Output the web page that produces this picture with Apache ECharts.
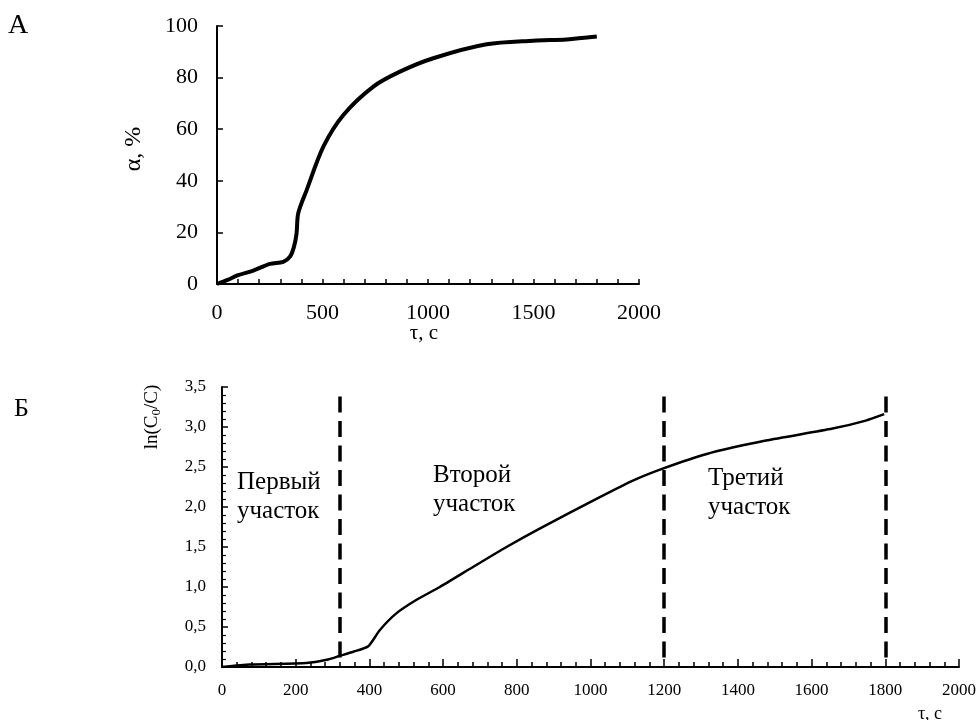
<!DOCTYPE html>
<html>
<head>
<meta charset="utf-8">
<script src="https://cdn.jsdelivr.net/npm/echarts@6/dist/echarts.min.js"></script>
<style>html,body{margin:0;padding:0;background:#fff}#c{width:979px;height:720px}</style>
</head>
<body>
<div id="c"></div>
<script>
// Panel A: conversion alpha (%) vs time (s)
const tauA = [0, 50, 100, 172, 251, 314, 346, 365, 377, 385, 425, 504, 599, 741, 867, 1025, 1278, 1499, 1657, 1800];
const alphaA = [0, 1.6, 3.4, 5.2, 7.8, 8.6, 10.6, 14.5, 19.6, 27.4, 36.4, 53.2, 65.5, 76.5, 82.3, 87.5, 92.9, 94.3, 94.8, 95.9];
// Panel B: ln(C0/C) vs time (s)
const tauB = [0, 76, 229, 284, 320, 356, 397, 428, 473, 528, 591, 681, 772, 862, 1024, 1115, 1196, 1313, 1476, 1657, 1747, 1797];
const lnB = [0, 0.03, 0.05, 0.09, 0.14, 0.19, 0.26, 0.46, 0.67, 0.84, 1.0, 1.25, 1.50, 1.73, 2.12, 2.33, 2.48, 2.66, 2.83, 2.98, 3.08, 3.16];
// Section boundaries (s)
const boundaries = [320, 1200, 1800];
const boundaryTop = 3.38;
const ticksA_x = [0, 500, 1000, 1500, 2000];
const ticksA_y = [0, 20, 40, 60, 80, 100];
const ticksB_x = [0, 200, 400, 600, 800, 1000, 1200, 1400, 1600, 1800, 2000];
const ticksB_y = ['0,0', '0,5', '1,0', '1,5', '2,0', '2,5', '3,0', '3,5'];
const sectionLabels = ['Первый\nучасток', 'Второй\nучасток', 'Третий\nучасток'];

const F = 'Liberation Serif, Times New Roman, serif';
const chart = echarts.init(document.getElementById('c'));
const axisLine = {show: true, lineStyle: {color: '#000', width: 2}};

chart.setOption({
  animation: false,
  backgroundColor: '#fff',
  grid: [
    {left: 217, top: 26, right: 340, bottom: 436},
    {left: 222, top: 387, right: 19, bottom: 53}
  ],
  xAxis: [
    {gridIndex: 0, type: 'value', min: 0, max: 2000, interval: 500,
     axisLine: axisLine,
     axisTick: {show: true, inside: true, length: 5, lineStyle: {color: '#000', width: 1.5}},
     minorTick: {show: true, splitNumber: 5, length: 5, lineStyle: {color: '#000', width: 1.5}},
     splitLine: {show: false},
     axisLabel: {color: '#000', fontFamily: F, fontSize: 22, margin: 18,
       formatter: v => ticksA_x.includes(v) ? String(v) : ''}},
    {gridIndex: 1, type: 'value', min: 0, max: 2000, interval: 200,
     axisLine: axisLine,
     axisTick: {show: true, inside: true, length: 8, lineStyle: {color: '#000', width: 1.5}},
     minorTick: {show: true, splitNumber: 5, length: 5, lineStyle: {color: '#000', width: 1.5}},
     splitLine: {show: false},
     axisLabel: {color: '#000', fontFamily: F, fontSize: 17, margin: 15,
       formatter: v => ticksB_x.includes(v) ? String(v) : ''}}
  ],
  yAxis: [
    {gridIndex: 0, type: 'value', min: 0, max: 100, interval: 20,
     axisLine: axisLine,
     axisTick: {show: true, inside: true, length: 6, lineStyle: {color: '#000', width: 1.5}},
     splitLine: {show: false},
     axisLabel: {color: '#000', fontFamily: F, fontSize: 22, margin: 19,
       formatter: v => ticksA_y.includes(v) ? String(v) : ''}},
    {gridIndex: 1, type: 'value', min: 0, max: 3.5, interval: 0.5,
     axisLine: axisLine,
     axisTick: {show: true, inside: true, length: 6, lineStyle: {color: '#000', width: 1.5}},
     minorTick: {show: true, splitNumber: 5, length: 4, lineStyle: {color: '#000', width: 1.2}},
     splitLine: {show: false},
     axisLabel: {color: '#000', fontFamily: F, fontSize: 17, margin: 16,
       formatter: v => ticksB_y[Math.round(v / 0.5)]}}
  ],
  series: [
    {type: 'line', xAxisIndex: 0, yAxisIndex: 0, smooth: 0.3, showSymbol: false,
     lineStyle: {color: '#000', width: 4},
     data: tauA.map((t, i) => [t, alphaA[i]])},
    {type: 'line', xAxisIndex: 1, yAxisIndex: 1, smooth: 0.2, showSymbol: false,
     lineStyle: {color: '#000', width: 2.5},
     data: tauB.map((t, i) => [t, lnB[i]]),
     markLine: {silent: true, symbol: 'none', label: {show: false},
       lineStyle: {color: '#000', width: 3.5, type: [16, 8.5]},
       data: boundaries.map(b => [{coord: [b, boundaryTop]}, {coord: [b, 0]}])}}
  ],
  graphic: [
    {type: 'text', left: 8, top: 12, style: {text: 'А', font: '28px ' + F, fill: '#000'}},
    {type: 'text', left: 14, top: 396, style: {text: 'Б', font: '26px ' + F, fill: '#000'}},
    {type: 'text', x: 134, y: 149, rotation: Math.PI / 2,
     style: {text: 'α, %', font: '24px ' + F, fill: '#000', align: 'center', verticalAlign: 'middle'}},
    {type: 'text', x: 424, y: 333,
     style: {text: 'τ, с', font: '21px ' + F, fill: '#000', align: 'center', verticalAlign: 'middle'}},
    {type: 'text', x: 152, y: 417, rotation: Math.PI / 2,
     style: {text: '{n|ln(C}{s|0}{n|/C)}', fill: '#000', align: 'center', verticalAlign: 'middle',
       rich: {n: {font: '19px ' + F, fill: '#000'}, s: {font: '13px ' + F, fill: '#000', padding: [9, 0, 0, 0]}}}},
    {type: 'text', x: 930, y: 714,
     style: {text: 'τ, с', font: '18px ' + F, fill: '#000', align: 'center', verticalAlign: 'middle'}},
    {type: 'text', left: 237, top: 468, style: {text: sectionLabels[0], font: '25px ' + F, fill: '#000', lineHeight: 29}},
    {type: 'text', left: 433, top: 461, style: {text: sectionLabels[1], font: '25px ' + F, fill: '#000', lineHeight: 29}},
    {type: 'text', left: 708, top: 464, style: {text: sectionLabels[2], font: '25px ' + F, fill: '#000', lineHeight: 29}}
  ]
});
</script>
</body>
</html>
